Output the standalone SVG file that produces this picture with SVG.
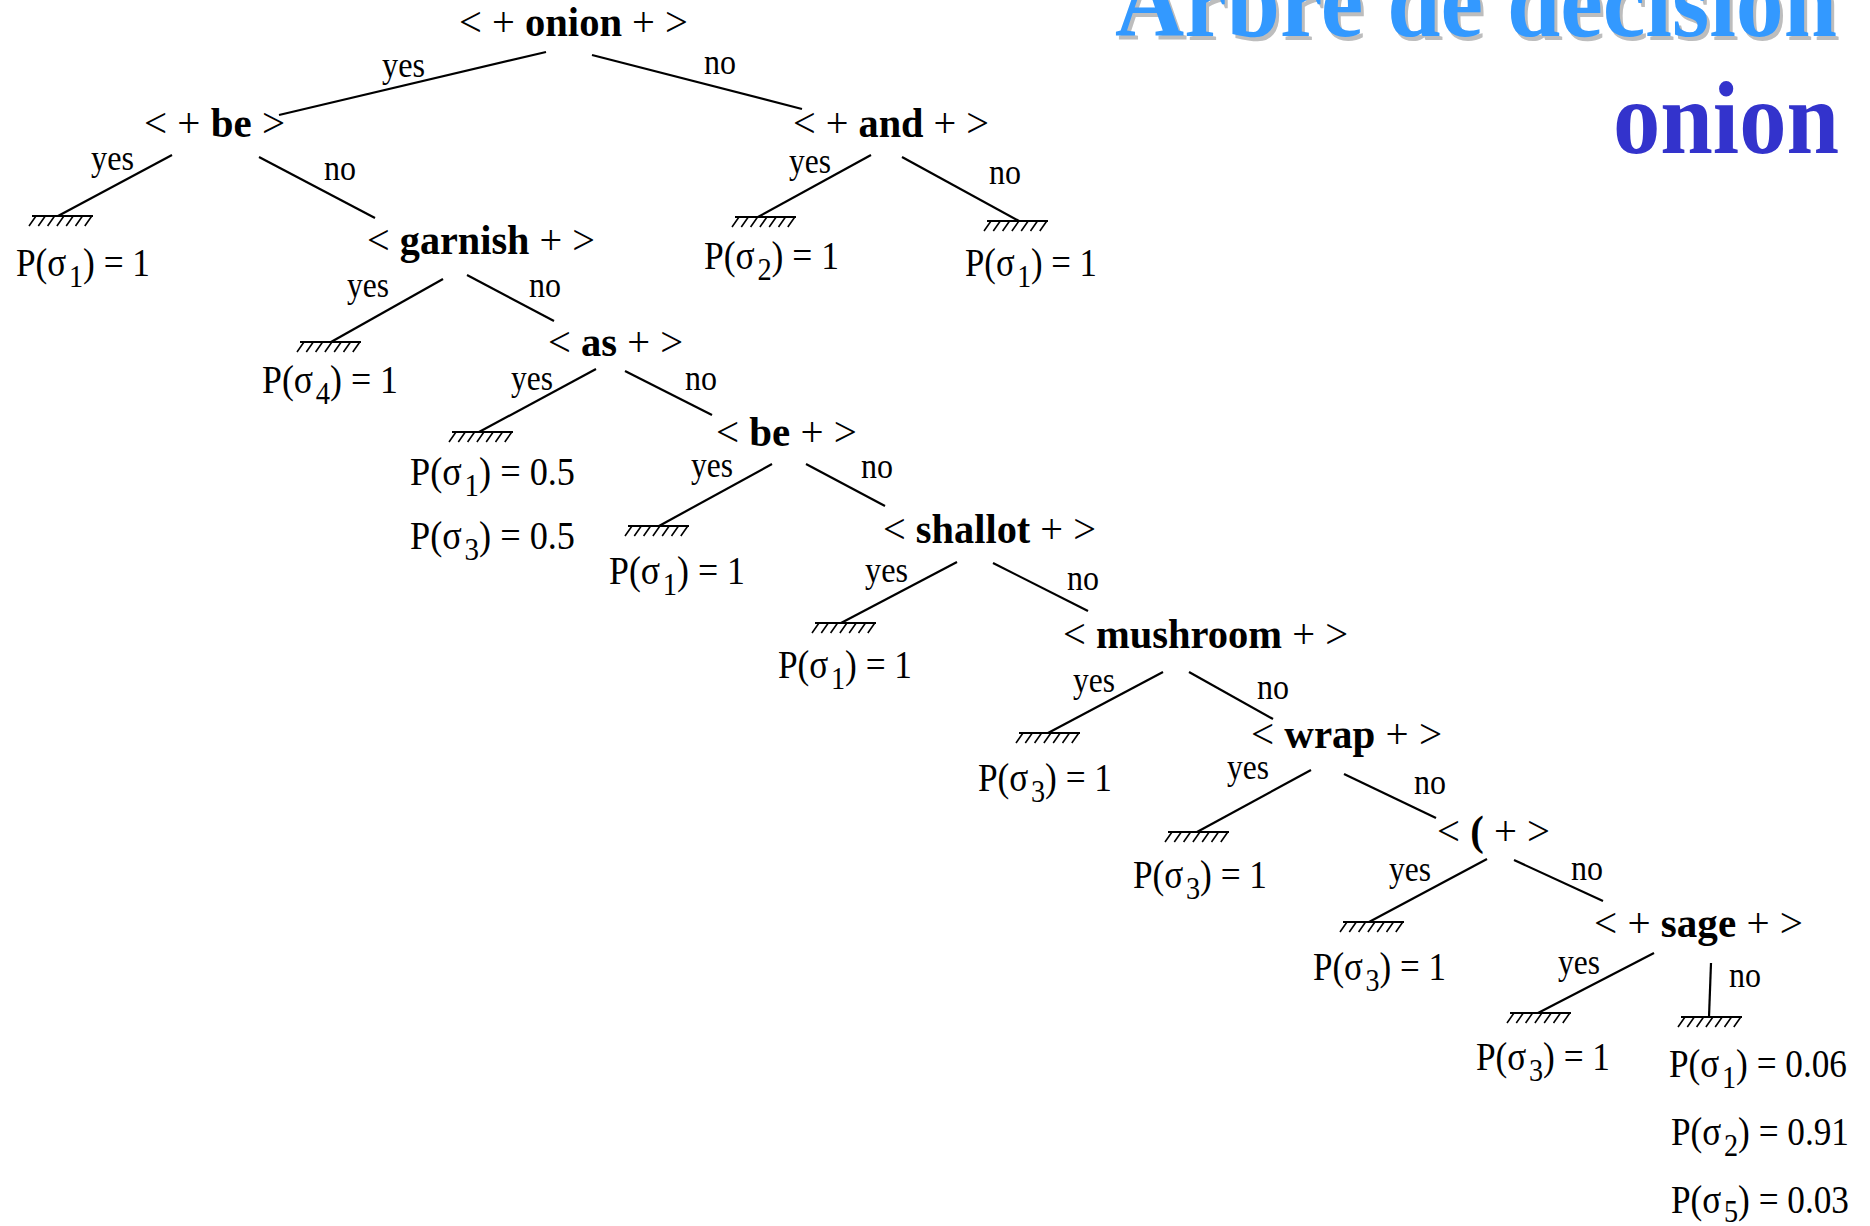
<svg xmlns="http://www.w3.org/2000/svg" xmlns:xlink="http://www.w3.org/1999/xlink" width="1870" height="1226" viewBox="0 0 1870 1226">
  <style>
    text { font-family: "Liberation Serif", "Times New Roman", serif; fill: #000; stroke: none; }
    .node { font-size: 43px; }
    .node .kw { font-weight: bold; }
    .lbl { font-size: 36px; }
    .prob { font-size: 40px; }
    .prob .sub { font-size: 32px; }
    .edge { stroke: #000; stroke-width: 2.2; fill: none; }
    .bar { stroke: #000; stroke-width: 2.2; fill: none; }
    .hatch { stroke: #000; stroke-width: 1.6; fill: none; }
    .title { font-weight: bold; font-size: 104px; }
  </style>
  <defs>
    <!-- ground symbol: horizontal bar with slanted hatching underneath -->
    <g id="ground">
      <path class="bar" d="M0,0H61"/>
      <path class="hatch" d="M4,0l-7,10M13.3,0l-7,10M22.6,0l-7,10M31.9,0l-7,10M41.2,0l-7,10M50.5,0l-7,10M59.8,0l-7,10"/>
    </g>
  </defs>
  <rect width="1870" height="1226" fill="#fff"/>

  <!-- heading -->
  <g id="heading">
    <text class="title" x="1118" y="40" textLength="722" lengthAdjust="spacingAndGlyphs" style="fill:#bdbdbd">Arbre de décision</text>
    <text class="title" x="1115" y="36" textLength="722" lengthAdjust="spacingAndGlyphs" style="fill:#3399ff">Arbre de décision</text>
    <text class="title" x="1613" y="153" textLength="226" lengthAdjust="spacingAndGlyphs" style="fill:#3333cc">onion</text>
  </g>

  <!-- branches with their yes / no labels -->
  <g id="connectors">
    <line class="edge" x1="546" y1="52" x2="279" y2="115"/>
    <line class="edge" x1="592" y1="55" x2="802" y2="109"/>
    <line class="edge" x1="172" y1="155" x2="58" y2="216"/>
    <line class="edge" x1="259" y1="157" x2="375" y2="218"/>
    <line class="edge" x1="871" y1="155" x2="758" y2="217"/>
    <line class="edge" x1="902" y1="157" x2="1019" y2="221"/>
    <line class="edge" x1="443" y1="279" x2="331" y2="342"/>
    <line class="edge" x1="467" y1="275" x2="554" y2="321"/>
    <line class="edge" x1="596" y1="369" x2="479" y2="432"/>
    <line class="edge" x1="625" y1="371" x2="712" y2="415"/>
    <line class="edge" x1="772" y1="464" x2="659" y2="526"/>
    <line class="edge" x1="806" y1="464" x2="885" y2="506"/>
    <line class="edge" x1="957" y1="562" x2="841" y2="623"/>
    <line class="edge" x1="993" y1="563" x2="1088" y2="611"/>
    <line class="edge" x1="1163" y1="672" x2="1048" y2="733"/>
    <line class="edge" x1="1189" y1="672" x2="1273" y2="719"/>
    <line class="edge" x1="1311" y1="770" x2="1197" y2="832"/>
    <line class="edge" x1="1344" y1="774" x2="1436" y2="818"/>
    <line class="edge" x1="1487" y1="859" x2="1369" y2="922"/>
    <line class="edge" x1="1514" y1="860" x2="1603" y2="901"/>
    <line class="edge" x1="1654" y1="953" x2="1538" y2="1013"/>
    <line class="edge" x1="1711" y1="963" x2="1709" y2="1017"/>

    <g class="lbl">
      <text x="382" y="77" textLength="43" lengthAdjust="spacingAndGlyphs">yes</text>
      <text x="704" y="74" textLength="32" lengthAdjust="spacingAndGlyphs">no</text>
      <text x="91" y="170" textLength="43" lengthAdjust="spacingAndGlyphs">yes</text>
      <text x="324" y="180" textLength="32" lengthAdjust="spacingAndGlyphs">no</text>
      <text x="789" y="173" textLength="42" lengthAdjust="spacingAndGlyphs">yes</text>
      <text x="989" y="184" textLength="32" lengthAdjust="spacingAndGlyphs">no</text>
      <text x="347" y="297" textLength="42" lengthAdjust="spacingAndGlyphs">yes</text>
      <text x="529" y="297" textLength="32" lengthAdjust="spacingAndGlyphs">no</text>
      <text x="511" y="390" textLength="42" lengthAdjust="spacingAndGlyphs">yes</text>
      <text x="685" y="390" textLength="32" lengthAdjust="spacingAndGlyphs">no</text>
      <text x="691" y="477" textLength="42" lengthAdjust="spacingAndGlyphs">yes</text>
      <text x="861" y="478" textLength="32" lengthAdjust="spacingAndGlyphs">no</text>
      <text x="865" y="582" textLength="43" lengthAdjust="spacingAndGlyphs">yes</text>
      <text x="1067" y="590" textLength="32" lengthAdjust="spacingAndGlyphs">no</text>
      <text x="1073" y="692" textLength="42" lengthAdjust="spacingAndGlyphs">yes</text>
      <text x="1257" y="699" textLength="32" lengthAdjust="spacingAndGlyphs">no</text>
      <text x="1227" y="779" textLength="42" lengthAdjust="spacingAndGlyphs">yes</text>
      <text x="1414" y="794" textLength="32" lengthAdjust="spacingAndGlyphs">no</text>
      <text x="1389" y="881" textLength="42" lengthAdjust="spacingAndGlyphs">yes</text>
      <text x="1571" y="880" textLength="32" lengthAdjust="spacingAndGlyphs">no</text>
      <text x="1558" y="974" textLength="42" lengthAdjust="spacingAndGlyphs">yes</text>
      <text x="1729" y="987" textLength="32" lengthAdjust="spacingAndGlyphs">no</text>
    </g>
  </g>

  <!-- decision nodes -->
  <g id="node-onion"><text class="node" x="459" y="36" textLength="229" lengthAdjust="spacingAndGlyphs">&lt; + <tspan class="kw">onion</tspan> + &gt;</text></g>
  <g id="node-be"><text class="node" x="144" y="137" textLength="141" lengthAdjust="spacingAndGlyphs">&lt; + <tspan class="kw">be</tspan> &gt;</text></g>
  <g id="node-and"><text class="node" x="793" y="137" textLength="196" lengthAdjust="spacingAndGlyphs">&lt; + <tspan class="kw">and</tspan> + &gt;</text></g>
  <g id="node-garnish"><text class="node" x="367" y="254" textLength="228" lengthAdjust="spacingAndGlyphs">&lt; <tspan class="kw">garnish</tspan> + &gt;</text></g>
  <g id="node-as"><text class="node" x="548" y="356" textLength="135" lengthAdjust="spacingAndGlyphs">&lt; <tspan class="kw">as</tspan> + &gt;</text></g>
  <g id="node-be2"><text class="node" x="716" y="446" textLength="141" lengthAdjust="spacingAndGlyphs">&lt; <tspan class="kw">be</tspan> + &gt;</text></g>
  <g id="node-shallot"><text class="node" x="883" y="543" textLength="213" lengthAdjust="spacingAndGlyphs">&lt; <tspan class="kw">shallot</tspan> + &gt;</text></g>
  <g id="node-mushroom"><text class="node" x="1063" y="648" textLength="285" lengthAdjust="spacingAndGlyphs">&lt; <tspan class="kw">mushroom</tspan> + &gt;</text></g>
  <g id="node-wrap"><text class="node" x="1251" y="748" textLength="191" lengthAdjust="spacingAndGlyphs">&lt; <tspan class="kw">wrap</tspan> + &gt;</text></g>
  <g id="node-paren"><text class="node" x="1437" y="845" textLength="113" lengthAdjust="spacingAndGlyphs">&lt; <tspan class="kw">(</tspan> + &gt;</text></g>
  <g id="node-sage"><text class="node" x="1594" y="937" textLength="209" lengthAdjust="spacingAndGlyphs">&lt; + <tspan class="kw">sage</tspan> + &gt;</text></g>

  <!-- leaves: ground symbol and class probabilities -->
  <g id="leaf-be-yes">
    <use xlink:href="#ground" href="#ground" x="32" y="216"/>
    <text class="prob" x="16" y="276" textLength="134" lengthAdjust="spacingAndGlyphs">P(σ<tspan class="sub" dx="3" dy="11">1</tspan><tspan dy="-11">) = 1</tspan></text>
  </g>
  <g id="leaf-and-yes">
    <use xlink:href="#ground" href="#ground" x="735" y="217"/>
    <text class="prob" x="704" y="269" textLength="135" lengthAdjust="spacingAndGlyphs">P(σ<tspan class="sub" dx="3" dy="11">2</tspan><tspan dy="-11">) = 1</tspan></text>
  </g>
  <g id="leaf-and-no">
    <use xlink:href="#ground" href="#ground" x="987" y="221"/>
    <text class="prob" x="965" y="276" textLength="132" lengthAdjust="spacingAndGlyphs">P(σ<tspan class="sub" dx="3" dy="11">1</tspan><tspan dy="-11">) = 1</tspan></text>
  </g>
  <g id="leaf-garnish-yes">
    <use xlink:href="#ground" href="#ground" x="300" y="342"/>
    <text class="prob" x="262" y="393" textLength="136" lengthAdjust="spacingAndGlyphs">P(σ<tspan class="sub" dx="3" dy="11">4</tspan><tspan dy="-11">) = 1</tspan></text>
  </g>
  <g id="leaf-as-yes">
    <use xlink:href="#ground" href="#ground" x="452" y="432"/>
    <text class="prob" x="410" y="485" textLength="165" lengthAdjust="spacingAndGlyphs">P(σ<tspan class="sub" dx="3" dy="11">1</tspan><tspan dy="-11">) = 0.5</tspan></text>
    <text class="prob" x="410" y="549" textLength="165" lengthAdjust="spacingAndGlyphs">P(σ<tspan class="sub" dx="3" dy="11">3</tspan><tspan dy="-11">) = 0.5</tspan></text>
  </g>
  <g id="leaf-be2-yes">
    <use xlink:href="#ground" href="#ground" x="628" y="526"/>
    <text class="prob" x="609" y="584" textLength="136" lengthAdjust="spacingAndGlyphs">P(σ<tspan class="sub" dx="3" dy="11">1</tspan><tspan dy="-11">) = 1</tspan></text>
  </g>
  <g id="leaf-shallot-yes">
    <use xlink:href="#ground" href="#ground" x="815" y="623"/>
    <text class="prob" x="778" y="678" textLength="134" lengthAdjust="spacingAndGlyphs">P(σ<tspan class="sub" dx="3" dy="11">1</tspan><tspan dy="-11">) = 1</tspan></text>
  </g>
  <g id="leaf-mushroom-yes">
    <use xlink:href="#ground" href="#ground" x="1019" y="733"/>
    <text class="prob" x="978" y="791" textLength="134" lengthAdjust="spacingAndGlyphs">P(σ<tspan class="sub" dx="3" dy="11">3</tspan><tspan dy="-11">) = 1</tspan></text>
  </g>
  <g id="leaf-wrap-yes">
    <use xlink:href="#ground" href="#ground" x="1168" y="832"/>
    <text class="prob" x="1133" y="888" textLength="134" lengthAdjust="spacingAndGlyphs">P(σ<tspan class="sub" dx="3" dy="11">3</tspan><tspan dy="-11">) = 1</tspan></text>
  </g>
  <g id="leaf-paren-yes">
    <use xlink:href="#ground" href="#ground" x="1343" y="922"/>
    <text class="prob" x="1313" y="980" textLength="133" lengthAdjust="spacingAndGlyphs">P(σ<tspan class="sub" dx="3" dy="11">3</tspan><tspan dy="-11">) = 1</tspan></text>
  </g>
  <g id="leaf-sage-yes">
    <use xlink:href="#ground" href="#ground" x="1510" y="1013"/>
    <text class="prob" x="1476" y="1070" textLength="134" lengthAdjust="spacingAndGlyphs">P(σ<tspan class="sub" dx="3" dy="11">3</tspan><tspan dy="-11">) = 1</tspan></text>
  </g>
  <g id="leaf-sage-no">
    <use xlink:href="#ground" href="#ground" x="1681" y="1017"/>
    <text class="prob" x="1669" y="1077" textLength="178" lengthAdjust="spacingAndGlyphs">P(σ<tspan class="sub" dx="3" dy="11">1</tspan><tspan dy="-11">) = 0.06</tspan></text>
    <text class="prob" x="1671" y="1145" textLength="178" lengthAdjust="spacingAndGlyphs">P(σ<tspan class="sub" dx="3" dy="11">2</tspan><tspan dy="-11">) = 0.91</tspan></text>
    <text class="prob" x="1671" y="1213" textLength="178" lengthAdjust="spacingAndGlyphs">P(σ<tspan class="sub" dx="3" dy="9">5</tspan><tspan dy="-9">) = 0.03</tspan></text>
  </g>
</svg>
